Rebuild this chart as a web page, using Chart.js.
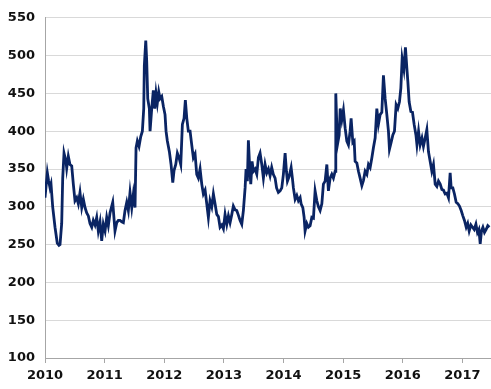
<!DOCTYPE html>
<html>
<head>
<meta charset="utf-8">
<script src="https://cdn.jsdelivr.net/npm/chart.js@4/dist/chart.umd.min.js"></script>
<style>
    body { margin: 0; background: #fff; }
    #wrap { width: 491px; height: 389px; }
</style>
</head>
<body>
<div id="wrap"><canvas id="priceChart" width="491" height="389"></canvas></div>
<script>
// x-axis tick labels (years) and y-axis ticks
const yearTicks = [2010, 2011, 2012, 2013, 2014, 2015, 2016, 2017];
const valueTicks = [100, 150, 200, 250, 300, 350, 400, 450, 500, 550];

// sample dates as decimal years
const dates = [
    2010.000, 2010.039, 2010.059, 2010.084, 2010.101, 2010.129, 2010.168, 2010.206, 2010.235, 2010.252,
    2010.280, 2010.297, 2010.319, 2010.352, 2010.364, 2010.391, 2010.419, 2010.448, 2010.475, 2010.503,
    2010.532, 2010.559, 2010.587, 2010.616, 2010.643, 2010.671, 2010.700, 2010.727, 2010.755, 2010.784,
    2010.810, 2010.839, 2010.867, 2010.894, 2010.923, 2010.951, 2010.978,
    2011.007, 2011.035, 2011.062, 2011.091, 2011.136, 2011.174, 2011.203, 2011.230, 2011.258, 2011.287,
    2011.314, 2011.342, 2011.371, 2011.398, 2011.426, 2011.455, 2011.482, 2011.510, 2011.527, 2011.549,
    2011.577, 2011.606, 2011.633, 2011.656, 2011.666, 2011.690, 2011.706, 2011.723, 2011.750, 2011.762,
    2011.790, 2011.817, 2011.841, 2011.862, 2011.884, 2011.908, 2011.930, 2011.958, 2011.985,
    2012.013, 2012.030, 2012.052, 2012.086, 2012.114, 2012.143, 2012.164, 2012.193, 2012.220, 2012.248,
    2012.277, 2012.304, 2012.332, 2012.354, 2012.378, 2012.404, 2012.433, 2012.461, 2012.488, 2012.517,
    2012.545, 2012.572, 2012.601, 2012.629, 2012.656, 2012.685, 2012.713, 2012.740, 2012.768, 2012.797,
    2012.824, 2012.852, 2012.881, 2012.908, 2012.936, 2012.965, 2012.992,
    2013.020, 2013.049, 2013.076, 2013.104, 2013.133, 2013.159, 2013.188, 2013.216, 2013.243, 2013.272,
    2013.300, 2013.327, 2013.356, 2013.372, 2013.394, 2013.411, 2013.428, 2013.451, 2013.473, 2013.495,
    2013.523, 2013.552, 2013.579, 2013.607, 2013.636, 2013.663, 2013.691, 2013.720, 2013.747, 2013.775,
    2013.802, 2013.829, 2013.859, 2013.884, 2013.914, 2013.943, 2013.971, 2013.998,
    2014.027, 2014.049, 2014.066, 2014.094, 2014.128, 2014.149, 2014.166, 2014.195, 2014.223, 2014.250,
    2014.279, 2014.295, 2014.324, 2014.346, 2014.362, 2014.391, 2014.418, 2014.446, 2014.475, 2014.502,
    2014.530, 2014.559, 2014.586, 2014.614, 2014.643, 2014.669, 2014.698, 2014.727, 2014.753, 2014.782,
    2014.810, 2014.837, 2014.866, 2014.877, 2014.904, 2014.933, 2014.951, 2014.978,
    2015.005, 2015.034, 2015.062, 2015.089, 2015.117, 2015.134, 2015.163, 2015.185, 2015.201, 2015.230,
    2015.257, 2015.285, 2015.314, 2015.341, 2015.369, 2015.398, 2015.425, 2015.453, 2015.482, 2015.508,
    2015.537, 2015.565, 2015.592, 2015.621, 2015.649, 2015.676, 2015.705, 2015.733, 2015.760, 2015.777,
    2015.805, 2015.834, 2015.861, 2015.889, 2015.917, 2015.945, 2015.968, 2015.990,
    2016.019, 2016.045, 2016.069, 2016.086, 2016.107, 2016.136, 2016.163, 2016.191, 2016.221, 2016.238,
    2016.265, 2016.292, 2016.322, 2016.347, 2016.376, 2016.404, 2016.431, 2016.460, 2016.488, 2016.515,
    2016.544, 2016.572, 2016.599, 2016.628, 2016.656, 2016.683, 2016.711, 2016.740, 2016.767, 2016.795,
    2016.812, 2016.840, 2016.867, 2016.896, 2016.924, 2016.951, 2016.980,
    2017.008, 2017.035, 2017.064, 2017.089, 2017.114, 2017.143, 2017.170, 2017.198, 2017.227, 2017.253,
    2017.277, 2017.299, 2017.320, 2017.344, 2017.371, 2017.399, 2017.426, 2017.453
];

const values = [
    312, 345, 335, 325, 330, 300, 273, 252, 249, 250,
    278, 338, 371, 360, 351, 367, 356, 354, 330, 308,
    312, 304, 319, 299, 310, 299, 292, 288, 278, 273,
    282, 276, 286, 268, 280, 255, 277,
    268, 286, 275, 292, 306, 268, 279, 282, 282, 280,
    279, 295, 306, 295, 319, 299, 317, 299, 378, 387,
    380, 393, 400, 430, 487, 520, 492, 443, 430, 400,
    430, 454, 430, 450, 437, 452, 443, 446, 433,
    422, 400, 387, 373, 356, 332, 348, 356, 371, 365,
    356, 409, 417, 441, 417, 400, 400, 382, 365, 370,
    343, 338, 350, 330, 317, 322, 304, 286, 308, 300,
    317, 304, 290, 287, 273, 276, 271,
    290, 277, 288, 279, 290, 301, 296, 295, 289, 282,
    277, 295, 325, 350, 334, 388, 360, 330, 360, 347,
    350, 343, 365, 371, 356, 338, 356, 345, 350, 341,
    352, 343, 338, 325, 319, 321, 325, 343,
    371, 347, 334, 340, 352, 338, 325, 310, 315, 308,
    312, 304, 299, 286, 268, 278, 273, 275, 286, 285,
    321, 308, 300, 295, 304, 330, 334, 356, 321, 338,
    343, 338, 347, 450, 382, 395, 430, 415,
    428, 404, 387, 382, 400, 417, 385, 387, 360, 358,
    347, 338, 328, 335, 347, 343, 356, 352, 365, 378,
    391, 430, 409, 422, 425, 474, 443, 422, 400, 376,
    385, 395, 400, 435, 430, 439, 457, 496,
    482, 511, 483, 465, 439, 426, 425, 409, 395, 382,
    400, 382, 391, 380, 391, 402, 373, 360, 347, 356,
    330, 327, 334, 330, 323, 322, 317, 318, 312, 345,
    325, 325, 317, 306, 304, 301, 295,
    288, 282, 273, 278, 268, 276, 273, 270, 277, 266,
    270, 251, 268, 273, 266, 270, 275, 273
];

const points = dates.map((d, i) => ({ x: d, y: values[i] }));

const ctx = document.getElementById("priceChart").getContext("2d");
const priceChart = new Chart(ctx, {
    type: "line",
    data: {
        datasets: [
            {
                data: points,
                borderColor: "#0a2463",
                borderWidth: 2.8,
                pointRadius: 0,
                tension: 0,
                fill: false,
            },
        ],
    },
    options: {
        responsive: false,
        animation: false,
        layout: { padding: { top: 14, right: 0, left: 0, bottom: 0 } },
        plugins: { legend: { display: false }, tooltip: { enabled: false } },
        scales: {
            x: {
                type: "linear",
                min: 2010,
                max: 2017.48,
                afterBuildTicks: (s) => { s.ticks = yearTicks.map((v) => ({ value: v })); },
                afterFit: (s) => { s.height = 31; },
                grid: {
                    drawOnChartArea: false,
                    drawTicks: true,
                    tickLength: 5,
                    color: "#a6a6a6",
                },
                border: { display: true, color: "#a6a6a6", width: 1 },
                ticks: {
                    autoSkip: false,
                    maxRotation: 0,
                    padding: 5,
                    color: "#111",
                    font: { family: "DejaVu Sans", size: 13, weight: "bold" },
                    callback: (v) => String(v),
                },
            },
            y: {
                min: 100,
                max: 550,
                afterBuildTicks: (s) => { s.ticks = valueTicks.map((v) => ({ value: v })); },
                afterFit: (s) => { s.width = 45; },
                grid: { color: "#d9d9d9", lineWidth: 1, drawTicks: false },
                border: { display: true, color: "#a6a6a6", width: 1 },
                ticks: {
                    padding: 10,
                    color: "#111",
                    font: { family: "DejaVu Sans", size: 13, weight: "bold" },
                },
            },
        },
    },
});
</script>
</body>
</html>
